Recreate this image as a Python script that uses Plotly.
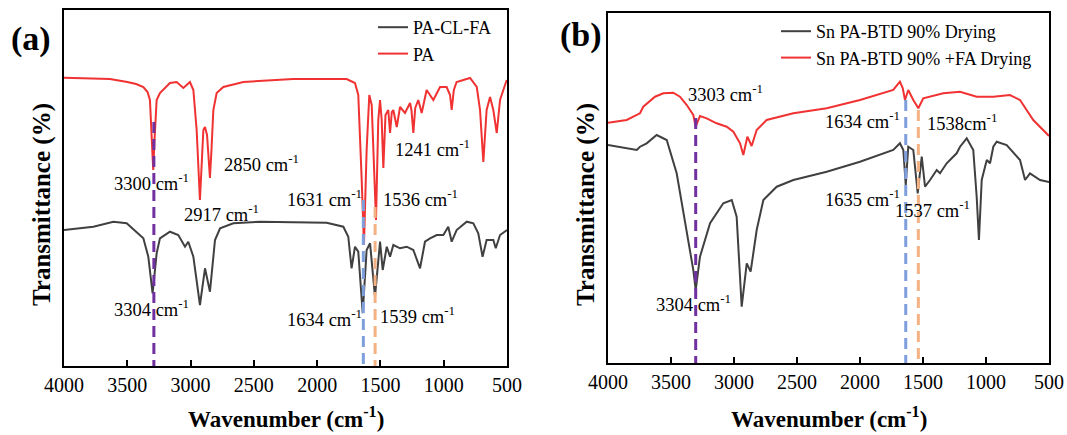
import plotly.graph_objects as go

# ---------------- data (arbitrary transmittance units) ----------------
# Panel (a)
pa_wn = [4000, 3834, 3637, 3500, 3430, 3373, 3340, 3321, 3305, 3295, 3285, 3268, 3242, 3163, 3110,
         3057, 3005, 2978, 2952, 2926, 2899, 2886, 2870, 2860, 2847, 2835, 2820, 2794, 2741, 2583,
         2188, 1950, 1767, 1701, 1675, 1648, 1630, 1609, 1588, 1569, 1551, 1535, 1517, 1503, 1490,
         1477, 1460, 1438, 1424, 1410, 1398, 1371, 1345, 1306, 1266, 1255, 1240, 1225, 1201, 1174,
         1135, 1082, 1029, 977, 950, 937, 920, 898, 845, 792, 739, 713, 687, 661, 634, 608, 581,
         555, 529, 502]
pa_t = [322.3, 322, 321, 318, 316, 313, 308, 300, 260, 230, 260, 300, 307, 317, 318,
        312, 318, 310, 270, 200, 270, 273, 265, 250, 222, 250, 290, 307, 313, 318,
        321, 321, 321, 317, 305, 220, 155, 250, 305, 295, 240, 180, 280, 300, 280,
        232, 285, 290, 267, 288, 290, 273, 293, 287, 297, 290, 267, 292, 300, 287,
        310, 300, 313, 313, 305, 290, 310, 318, 320, 322, 313, 290, 238, 290, 303, 290, 267,
        300, 310, 320]

pacl_wn = [4000, 3768, 3610, 3505, 3373, 3334, 3300, 3268, 3242, 3163, 3097, 3044, 3018, 2978,
           2926, 2886, 2847, 2807, 2767, 2662, 2451, 1925, 1793, 1754, 1728, 1701, 1675, 1640,
           1609, 1582, 1543, 1503, 1482, 1450, 1424, 1398, 1345, 1292, 1240, 1187, 1148, 1108,
           1055, 1003, 964, 937, 898, 818, 766, 727, 693, 661, 608, 589, 555, 516, 500]
pacl_t = [170, 173.3, 178.3, 176.7, 161.7, 143.3, 106.7, 146.7, 161.7, 168.3, 165, 153.3, 158.3, 143.3,
          95, 131.7, 108.3, 160, 171.7, 176.7, 178.3, 177.3, 173.3, 163.3, 131.7, 153.3, 148.3, 86.7,
          150, 156.7, 103.3, 158.3, 130, 153.3, 143.3, 155, 151.7, 153.3, 150, 131.7, 158.3, 161.7,
          165, 165, 173.3, 158.3, 170, 178.3, 176.7, 166.7, 143.3, 160, 160, 151.7, 165, 168.3, 170]

# Panel (b)
fa_wn = [4000, 3852, 3746, 3720, 3627, 3561, 3482, 3429, 3375, 3323, 3304, 3270, 3217, 3138, 3058,
         3005, 2952, 2926, 2894, 2860, 2820, 2741, 2529, 2264, 2000, 1736, 1683, 1661, 1643, 1617,
         1577, 1537, 1498, 1444, 1339, 1206, 1074, 942, 810, 730, 625, 500]
fa_t = [277.3, 280, 286.7, 293.3, 303.3, 306.7, 307.3, 303.3, 295, 285, 273.3, 284, 281.7, 276.7, 273.3,
        268.3, 256.7, 245, 263.3, 254, 270, 280, 286.7, 291.7, 300, 310, 318.3, 312, 300, 310,
        300, 291.7, 301.7, 303.3, 306.7, 308.3, 303.3, 303.3, 305, 300, 280, 264]

dry_wn = [4000, 3772, 3746, 3693, 3614, 3534, 3455, 3375, 3323, 3304, 3270, 3190, 3085, 3018, 2979,
          2939, 2899, 2868, 2820, 2767, 2661, 2529, 2264, 2000, 1736, 1683, 1656, 1637, 1617, 1577,
          1542, 1510, 1484, 1444, 1391, 1365, 1312, 1233, 1206, 1153, 1101, 1074, 1056, 1034, 994,
          968, 942, 915, 836, 730, 690, 651, 571, 500]
dry_t = [255, 250, 253.3, 256.7, 265, 260, 226.7, 170, 130, 110, 143.3, 176.7, 196.7, 200, 183.3,
         93.3, 136.7, 128.3, 170, 200, 213.3, 220, 228.3, 238.3, 250, 256.7, 250, 215, 253.3, 250,
         206.7, 243.3, 213.3, 220, 230, 226.7, 236.7, 246.7, 253.3, 261.7, 250, 203.3, 160, 220, 240,
         236.7, 253.3, 258.3, 255, 240, 220, 226.7, 220, 218]

# marked peaks: position, top of dashed marker
a_peak_wn = [3290, 1635, 1542]
a_peak_top = [278, 200, 193]
b_peak_wn = [3304, 1637, 1537]
b_peak_top = [282, 300, 290]
peak_colors = ["#7030A0", "#7F9FDC", "#F4B183"]

# labels: (text, wn, T)
a_labels = [("3300 cm", 3305, 218), ("2850 cm", 2436, 237), ("1241 cm", 1085, 252), ("1631 cm", 1938, 202),
            ("1536 cm", 1187, 202), ("2917 cm", 2752, 187), ("3304 cm", 3305, 92), ("1634 cm", 1938, 82),
            ("1539 cm", 1211, 85)]
b_labels = [("3303 cm", 3071, 307), ("1634 cm", 1984, 280), ("1538cm", 1190, 278),
            ("1635 cm", 1984, 202), ("1537 cm", 1421, 191), ("3304 cm", 3325, 97)]

FONT = "Liberation Serif"
BLACK = "#404040"
RED = "#F03232"
W, H = 1067, 435

fig = go.Figure()
fig.add_trace(go.Scatter(x=pacl_wn, y=pacl_t, mode="lines", name="PA-CL-FA",
                         line=dict(color=BLACK, width=2), xaxis="x", yaxis="y", legend="legend"))
fig.add_trace(go.Scatter(x=pa_wn, y=pa_t, mode="lines", name="PA",
                         line=dict(color=RED, width=2), xaxis="x", yaxis="y", legend="legend"))
fig.add_trace(go.Scatter(x=dry_wn, y=dry_t, mode="lines", name="Sn PA-BTD 90% Drying",
                         line=dict(color=BLACK, width=2), xaxis="x2", yaxis="y2", legend="legend2"))
fig.add_trace(go.Scatter(x=fa_wn, y=fa_t, mode="lines", name="Sn PA-BTD 90% +FA Drying",
                         line=dict(color=RED, width=2), xaxis="x2", yaxis="y2", legend="legend2"))

YA = [34, 390]
YB = [37, 387]
for w, top, c in zip(a_peak_wn, a_peak_top, peak_colors):
    fig.add_trace(go.Scatter(x=[w, w], y=[top, YA[0]], mode="lines", showlegend=False,
                             line=dict(color=c, width=3, dash="11px,6px"), xaxis="x", yaxis="y"))
for w, top, c in zip(b_peak_wn, b_peak_top, peak_colors):
    fig.add_trace(go.Scatter(x=[w, w], y=[top, YB[0]], mode="lines", showlegend=False,
                             line=dict(color=c, width=3, dash="11px,6px"), xaxis="x2", yaxis="y2"))

annos = []
for t, xw, yt in a_labels:
    annos.append(dict(text=f"{t}<sup>-1</sup>", x=xw, y=yt, xref="x", yref="y", showarrow=False,
                      font=dict(family=FONT, size=18.5, color="black")))
for t, xw, yt in b_labels:
    annos.append(dict(text=f"{t}<sup>-1</sup>", x=xw, y=yt, xref="x2", yref="y2", showarrow=False,
                      font=dict(family=FONT, size=18.5, color="black")))
C = dict(xref="paper", yref="paper", showarrow=False, xanchor="center", yanchor="middle")
# panel letters
annos.append(dict(C, text="<b>(a)</b>", x=31 / W, y=1 - 39 / H,
                  font=dict(family=FONT, size=34, color="black")))
annos.append(dict(C, text="<b>(b)</b>", x=581 / W, y=1 - 35 / H,
                  font=dict(family=FONT, size=34, color="black")))
# axis titles
for cx in (285.5 / W, 828.5 / W):
    annos.append(dict(C, text="<b>Wavenumber (cm<sup>-1</sup>)</b>", x=cx, y=1 - 417 / H,
                      font=dict(family=FONT, size=23, color="black")))
for cx, cy in ((42 / W, 1 - 205 / H), (586 / W, 1 - 205 / H)):
    annos.append(dict(C, text="<b>Transmittance (%)</b>", x=cx, y=cy, textangle=-90,
                      font=dict(family=FONT, size=25, color="black")))

xax = dict(range=[4000, 500], dtick=500, tick0=500, ticks="inside", ticklen=6, tickwidth=1.5,
           tickcolor="black", showline=True, linecolor="black", linewidth=2, mirror=True,
           showgrid=False, zeroline=False, automargin=False,
           tickfont=dict(family=FONT, size=20, color="black"))
yax = dict(showticklabels=False, ticks="", showline=True, linecolor="black", linewidth=2,
           mirror=True, showgrid=False, zeroline=False, automargin=False)

leg = dict(xanchor="left", yanchor="top", bgcolor="rgba(0,0,0,0)",
           font=dict(family=FONT, size=18, color="black"), tracegroupgap=0)

fig.update_layout(
    width=W, height=H, margin=dict(l=0, r=0, t=0, b=0),
    paper_bgcolor="white", plot_bgcolor="white",
    xaxis=dict(xax, domain=[64 / W, 507 / W], anchor="y"),
    yaxis=dict(yax, domain=[1 - 366 / H, 1 - 10 / H], range=YA, anchor="x"),
    xaxis2=dict(xax, domain=[608 / W, 1049 / W], anchor="y2"),
    yaxis2=dict(yax, domain=[1 - 363 / H, 1 - 13 / H], range=YB, anchor="x2"),
    legend=dict(leg, x=373 / W, y=1 - 9 / H),
    legend2=dict(leg, x=776 / W, y=1 - 13 / H),
    annotations=annos,
    showlegend=True,
)

fig.write_html("out.html", config={"displayModeBar": False},
               post_script="document.body.style.margin='0px';document.body.style.overflow='hidden';")
